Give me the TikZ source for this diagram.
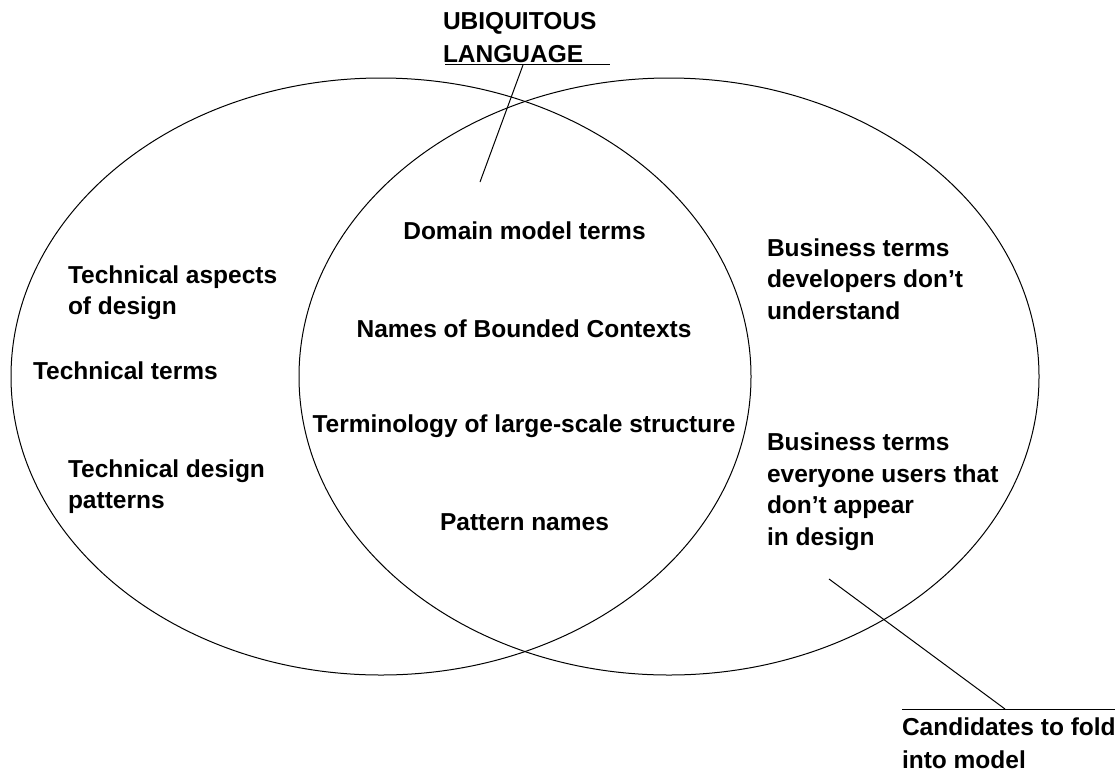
\documentclass[tikz,border=0pt]{standalone}
\usepackage{fontspec}
\setmainfont{Liberation Sans}
\usetikzlibrary{shapes.geometric}
\begin{document}
\begin{tikzpicture}[x=1pt,y=-1pt,
  txt/.style={inner sep=0pt, outer sep=0pt, align=left, font=\bfseries\fontsize{24.5}{31.5}\selectfont},
  lbl/.style={txt, anchor=base west},
  ctr/.style={txt, anchor=base},
  ring/.style={draw, line width=1pt, ellipse, minimum width=740pt, minimum height=597pt, inner sep=0pt},
  wire/.style={line width=1pt}]
\useasboundingbox[fill=white] (0,0) rectangle (1118,772);
% circles
\node[ring] (leftset) at (381,376.5) {};
\node[ring] (rightset) at (669,376.5) {};
% title (anchored at the baseline of its last line)
\node[lbl, font=\bfseries\fontsize{24.5}{33}\selectfont] (ul) at (443,62) {UBIQUITOUS\\LANGUAGE};
\coordinate (ulA) at (445,64.5);
\coordinate (ulB) at (610,64.5);
\coordinate (ulfoot) at (523,65);
\coordinate (ulend) at (480,182);
\draw[wire] (ulA) -- (ulB);
\draw[wire] (ulfoot) -- (ulend);
% left
\node[lbl] (tad) at (68,314.5) {Technical aspects\\of design};
\node[lbl] (tt) at (33,379) {Technical terms};
\node[lbl] (tdp) at (68,508.5) {Technical design\\patterns};
% middle
\node[ctr] (dmt) at (524.5,239) {Domain model terms};
\node[ctr] (nbc) at (524,337) {Names of Bounded Contexts};
\node[ctr] (tls) at (524,432) {Terminology of large-scale structure};
\node[ctr] (pn) at (524.5,530) {Pattern names};
% right
\node[lbl] (bt1) at (767,319) {Business terms\\developers don't\\understand};
\node[lbl] (bt2) at (767,545) {Business terms\\everyone users that\\don't appear\\in design};
% candidates
\node[lbl, font=\bfseries\fontsize{24.5}{33}\selectfont] (cand) at (902,768) {Candidates to fold\\into model};
\coordinate (cA) at (902,709);
\coordinate (cB) at (1115,709);
\coordinate (cstart) at (829,579);
\coordinate (cfoot) at (1005,709);
\draw[wire] (cA) -- (cB);
\draw[wire] (cstart) -- (cfoot);
\end{tikzpicture}
\end{document}
